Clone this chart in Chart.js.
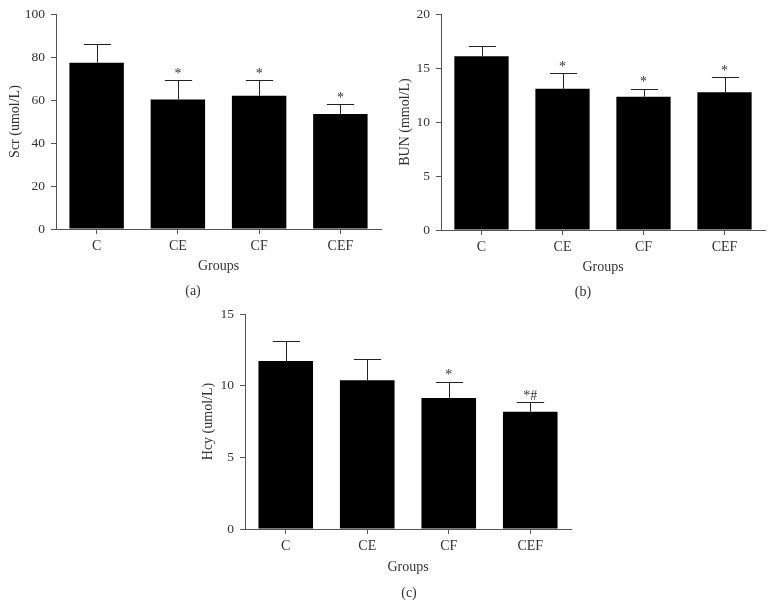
<!DOCTYPE html>
<html>
<head>
<meta charset="utf-8">
<script src="https://cdn.jsdelivr.net/npm/chart.js@4"></script>
<style>
  body { margin: 0; background: #fff; width: 773px; height: 616px; position: relative; overflow: hidden; }
  canvas { position: absolute; }
  .cap { position: absolute; font: 14px "Liberation Serif", serif; color: #333; transform: translate(-50%, -50%); }
</style>
</head>
<body>
<canvas id="scr" width="390" height="300" style="left:0;top:0"></canvas>
<canvas id="bun" width="383" height="300" style="left:390px;top:0"></canvas>
<canvas id="hcy" width="400" height="316" style="left:190px;top:300px"></canvas>
<div class="cap" style="left:193px;top:291px">(a)</div>
<div class="cap" style="left:583px;top:292px">(b)</div>
<div class="cap" style="left:409px;top:593px">(c)</div>
<script>
var groups = ['C', 'CE', 'CF', 'CEF'];

var scrMean = [77.4, 60.3, 62.0, 53.5];
var scrErr = [8.6, 8.9, 7.2, 4.6];
var scrSig = ['', '*', '*', '*'];

var bunMean = [16.1, 13.08, 12.35, 12.75];
var bunErr = [0.92, 1.42, 0.73, 1.42];
var bunSig = ['', '*', '*', '*'];

var hcyMean = [11.72, 10.38, 9.15, 8.18];
var hcyErr = [1.37, 1.48, 1.14, 0.67];
var hcySig = ['', '', '*', '*#'];

var serif = '"Liberation Serif", "Times New Roman", serif';
var axisCol = '#555';
var textCol = '#333';

// error bars (upper half only) and the significance marks
var errPlugin = {
  id: 'errbars',
  afterDatasetsDraw(chart) {
    var ctx = chart.ctx;
    var y = chart.scales.y;
    var ds = chart.data.datasets[0];
    var bars = chart.getDatasetMeta(0).data;
    ctx.save();
    ctx.strokeStyle = '#222';
    ctx.lineWidth = 1;
    bars.forEach(function (bar, i) {
      var top = y.getPixelForValue(ds.data[i] + ds.err[i]);
      var half = bar.width / 4;
      var x = Math.round(bar.x) + 0.5;
      var yt = Math.round(top) + 0.5;
      ctx.beginPath();
      ctx.moveTo(x, bar.y);
      ctx.lineTo(x, yt);
      ctx.moveTo(x - half, yt);
      ctx.lineTo(x + half, yt);
      ctx.stroke();
      if (ds.sig[i]) {
        ctx.fillStyle = textCol;
        ctx.font = '14px ' + serif;
        ctx.textAlign = 'center';
        ctx.textBaseline = 'middle';
        ctx.fillText(ds.sig[i], bar.x, top - 6);
      }
    });
    ctx.restore();
  }
};

function makeChart(id, mean, err, sig, yTitle, yMax, yStep, box) {
  new Chart(document.getElementById(id), {
    type: 'bar',
    data: {
      labels: groups,
      datasets: [{
        data: mean,
        err: err,
        sig: sig,
        backgroundColor: '#000',
        borderWidth: 0,
        barPercentage: 0.67,
        categoryPercentage: 1
      }]
    },
    options: {
      responsive: false,
      animation: false,
      devicePixelRatio: 1,
      layout: { padding: { top: box.top, right: box.right, left: 0, bottom: 0 } },
      plugins: { legend: { display: false }, tooltip: { enabled: false } },
      scales: {
        x: {
          offset: true,
          grid: { offset: false, drawOnChartArea: false, drawTicks: true, tickLength: 5, color: axisCol },
          border: { color: axisCol, width: 1 },
          ticks: { color: textCol, font: { family: serif, size: 14 }, padding: 4, maxRotation: 0 },
          title: { display: true, text: 'Groups', color: textCol, font: { family: serif, size: 14 }, padding: { top: 0, bottom: box.xTitlePad } },
          afterFit: function (s) { s.height = box.xHeight; }
        },
        y: {
          min: 0,
          max: yMax,
          grid: { drawOnChartArea: false, drawTicks: true, tickLength: 5, color: axisCol },
          border: { color: axisCol, width: 1 },
          ticks: { stepSize: yStep, color: textCol, font: { family: serif, size: 13.5 }, padding: 6 },
          title: { display: true, text: yTitle, color: textCol, font: { family: serif, size: 14 }, padding: { top: box.yTitlePad, bottom: 0 } },
          afterFit: function (s) { s.width = box.left; }
        }
      }
    },
    plugins: [errPlugin]
  });
}

makeChart('scr', scrMean, scrErr, scrSig, 'Scr (umol/L)', 100, 20,
  { left: 56, top: 13, right: 9, xHeight: 71, xTitlePad: 25, yTitlePad: 7 });
makeChart('bun', bunMean, bunErr, bunSig, 'BUN (mmol/L)', 20, 5,
  { left: 51, top: 14, right: 8, xHeight: 70, xTitlePad: 24, yTitlePad: 7 });
makeChart('hcy', hcyMean, hcyErr, hcySig, 'Hcy (umol/L)', 15, 5,
  { left: 55, top: 12, right: 19, xHeight: 87, xTitlePad: 40, yTitlePad: 10 });
</script>
</body>
</html>
